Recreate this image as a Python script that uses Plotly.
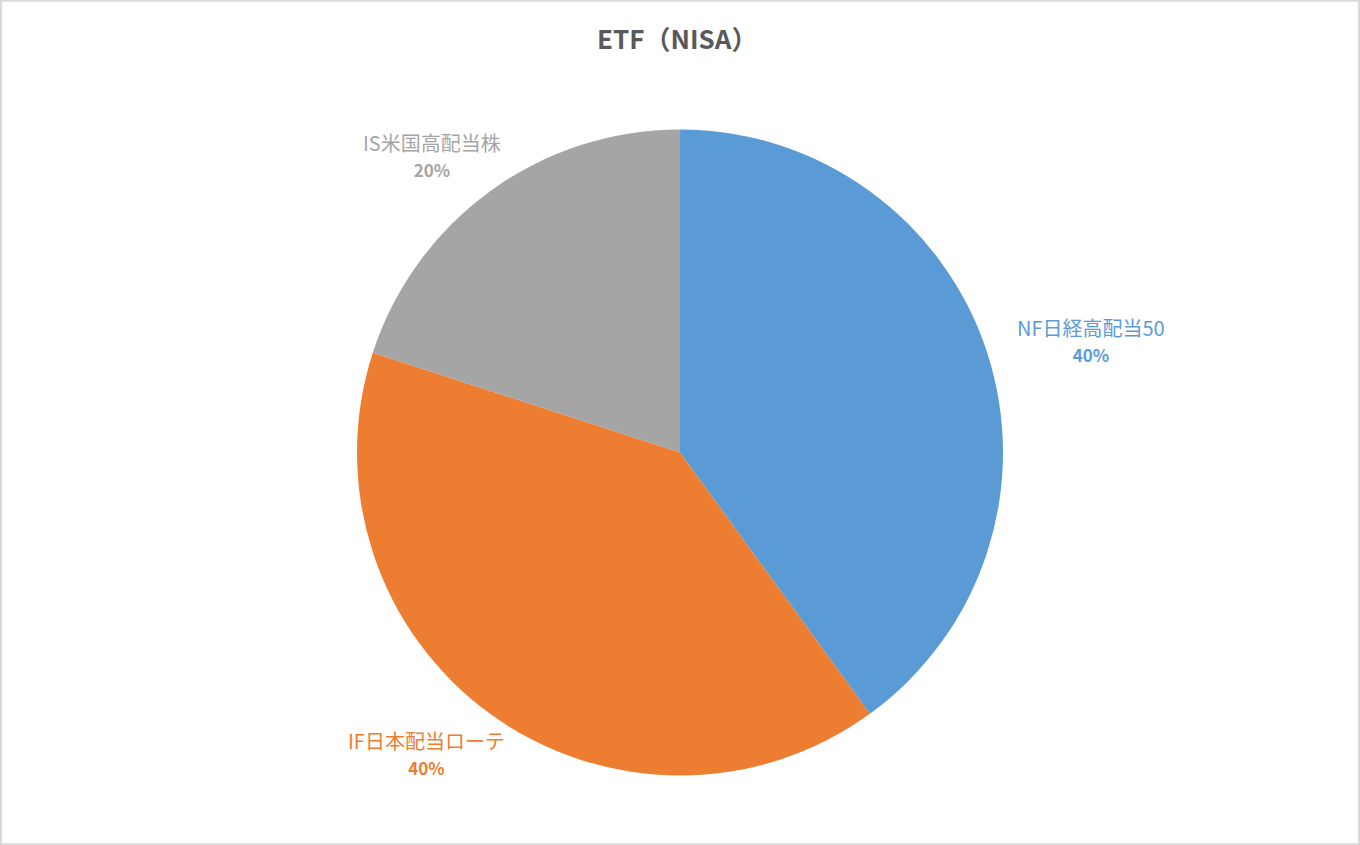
import plotly.graph_objects as go

labels = ["NF日経高配当50", "IF日本配当ローテ", "IS米国高配当株"]
values = [40, 40, 20]
colors = ["#5B9BD5", "#ED7D31", "#A5A5A5"]

W, H = 1360, 845
FONT = "Noto Sans CJK JP"

fig = go.Figure(go.Pie(
    labels=labels,
    values=values,
    sort=False,
    direction="clockwise",
    rotation=0,
    marker=dict(colors=colors, line=dict(width=0)),
    textinfo="none",
    domain=dict(x=[357 / W, 1003 / W], y=[69 / H, 716 / H]),
    showlegend=False,
    hoverinfo="label+percent",
))

# data labels placed like Excel's "best fit" (pixel centres)
label_pos = [(1091, 340), (426, 753), (432, 155)]
total = sum(values)
annotations = []
for lab, v, c, (px, py) in zip(labels, values, colors, label_pos):
    pct = round(v / total * 100)
    annotations.append(dict(
        x=px / W, y=1 - py / H, xref="paper", yref="paper",
        xanchor="center", yanchor="middle", showarrow=False,
        text=f"{lab}<br><b><span style='font-size:17px'>{pct}%</span></b>",
        font=dict(family=FONT, size=20, color=c),
    ))

fig.update_layout(
    width=W, height=H,
    margin=dict(l=0, r=0, t=0, b=0),
    paper_bgcolor="white",
    plot_bgcolor="white",
    title=dict(text="<b>ETF（NISA）</b>", x=0.498, xanchor="center", y=1 - 40 / H, yanchor="middle",
               font=dict(family=FONT, size=26, color="#595959")),
    annotations=annotations,
    shapes=[dict(type="rect", xref="paper", yref="paper", x0=0.0007, x1=0.9993, y0=0.001, y1=0.999,
                 line=dict(color="#D9D9D9", width=2))],
)

fig.write_html("out.html", config={"displayModeBar": False})

# drop the browser's default body margin so the figure fills the window exactly
with open("out.html", encoding="utf-8") as f:
    html = f.read()
html = html.replace("<head>", "<head><style>body{margin:0;overflow:hidden}</style>", 1)
with open("out.html", "w", encoding="utf-8") as f:
    f.write(html)
